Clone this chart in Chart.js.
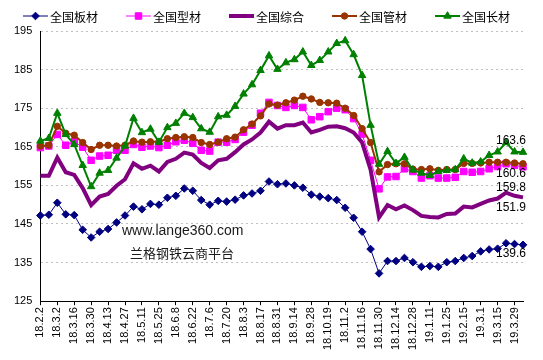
<!DOCTYPE html>
<html>
<head>
<meta charset="utf-8">
<script src="https://cdn.jsdelivr.net/npm/chart.js@4.4.1/dist/chart.umd.min.js"></script>
<style>
  html, body { margin: 0; padding: 0; background: #fff; }
  .wrap { width: 543px; height: 360px; position: relative; }
</style>
</head>
<body>
<div class="wrap"><canvas id="priceChart"></canvas></div>
<script>
// weekly dates, a label is shown on every other one
const dates = [
  "18.2.2", "18.2.9", "18.3.2", "18.3.9", "18.3.16", "18.3.23", "18.3.30", "18.4.6",
  "18.4.13", "18.4.20", "18.4.27", "18.5.4", "18.5.11", "18.5.18", "18.5.25", "18.6.1",
  "18.6.8", "18.6.15", "18.6.22", "18.6.29", "18.7.6", "18.7.13", "18.7.20", "18.7.27",
  "18.8.3", "18.8.10", "18.8.17", "18.8.24", "18.8.31", "18.9.7", "18.9.14", "18.9.21",
  "18.9.28", "18.10.12", "18.10.19", "18.10.26", "18.11.2", "18.11.9", "18.11.16", "18.11.23",
  "18.11.30", "18.12.7", "18.12.14", "18.12.21", "18.12.28", "19.1.4", "19.1.11", "19.1.18",
  "19.1.25", "19.2.1", "19.2.15", "19.2.22", "19.3.1", "19.3.8", "19.3.15", "19.3.22",
  "19.3.29", "19.4.4"
];

const plate = [
  147.2, 147.4, 150.5, 147.5, 147.3, 143.5, 141.5, 143.0, 143.7, 145.4,
  147.2, 149.5, 148.8, 150.2, 150.0, 151.8, 152.3, 154.2, 153.6, 151.2,
  150.0, 151.0, 150.8, 151.3, 152.4, 152.9, 153.6, 156.0, 155.3, 155.5,
  155.0, 154.4, 152.6, 152.1, 151.7, 151.2, 149.2, 146.6, 143.0, 138.5,
  132.2, 135.4, 135.4, 136.2, 135.1, 133.9, 134.1, 133.9, 135.1, 135.4,
  136.2, 136.7, 137.9, 138.4, 138.6, 140.0, 139.8, 139.6
];
const section = [
  164.8, 165.2, 168.2, 165.4, 166.3, 164.9, 161.5, 162.6, 162.8, 164.1,
  164.1, 165.6, 164.9, 165.2, 164.8, 165.4, 166.3, 166.7, 165.9, 164.1,
  163.9, 166.2, 166.2, 166.9, 168.8, 170.6, 173.7, 176.5, 175.7, 175.2,
  175.7, 175.2, 172.0, 172.8, 174.1, 175.0, 174.6, 172.3, 168.3, 161.5,
  154.1, 157.2, 157.3, 159.3, 158.6, 156.9, 157.5, 156.9, 156.9, 157.1,
  158.6, 158.4, 158.6, 159.3, 159.9, 160.6, 160.2, 159.8
];
const overall = [
  157.5, 157.5, 162.2, 158.4, 157.7, 154.3, 149.9, 152.1, 152.8, 154.9,
  156.6, 160.7, 159.3, 160.1, 158.6, 161.1, 161.9, 163.5, 163.0, 160.8,
  159.5, 161.5, 161.9, 163.6, 165.6, 166.9, 168.7, 171.5, 169.7, 170.6,
  170.6, 171.3, 168.7, 169.4, 170.2, 170.3, 169.8, 168.7, 166.1, 159.1,
  146.7, 149.9, 148.8, 149.8, 148.6, 147.1, 146.8, 146.7, 147.6, 147.7,
  149.5, 149.3, 150.2, 151.1, 151.6, 153.1, 152.3, 151.9
];
const pipe = [
  165.2, 165.4, 170.3, 168.5, 168.0, 166.1, 164.3, 165.4, 165.4, 165.2,
  165.4, 166.5, 166.2, 166.3, 166.3, 167.1, 167.4, 167.6, 167.4, 166.1,
  165.6, 166.2, 167.1, 167.5, 169.4, 170.9, 173.0, 176.1, 175.8, 176.4,
  177.1, 178.1, 177.4, 176.5, 176.4, 176.3, 175.0, 173.1, 169.7, 166.1,
  158.5, 160.4, 160.6, 160.6, 159.2, 159.1, 159.3, 158.9, 159.1, 159.1,
  160.7, 160.7, 160.8, 161.0, 161.0, 161.0, 160.8, 160.6
];
const longSteel = [
  166.5, 167.2, 173.7, 168.2, 165.6, 160.2, 154.7, 158.2, 158.9, 162.1,
  165.2, 172.4, 168.7, 169.6, 166.2, 170.0, 171.1, 173.7, 172.6, 169.7,
  168.8, 172.8, 173.2, 175.5, 178.7, 181.1, 184.8, 188.6, 185.1, 186.8,
  187.6, 189.6, 186.1, 187.4, 189.6, 191.8, 192.5, 188.9, 183.5, 170.6,
  160.5, 163.8, 160.7, 162.3, 159.0, 158.2, 157.6, 158.6, 158.9, 159.1,
  161.9, 160.8, 161.1, 162.8, 163.7, 166.1, 163.7, 163.6
];

const seriesNames = ["全国板材", "全国型材", "全国综合", "全国管材", "全国长材"];

const FONT = "'Liberation Sans', Arial, sans-serif";
const CJK = "'Noto Sans CJK SC', sans-serif";

// vertical offset of the end value label, per dataset index
const endLabelOffset = { 0: 9, 1: 21, 2: 10, 3: 10, 4: -12 };

const legendPlugin = {
  id: "lineLegend",
  afterDraw(chart) {
    const ctx = chart.ctx;
    const y = 16;
    let x = 23;
    ctx.save();
    ctx.font = "12px " + CJK;
    ctx.textBaseline = "middle";
    ctx.fillStyle = "#000";
    chart.data.datasets.forEach((ds) => {
      ctx.strokeStyle = ds.borderColor;
      ctx.lineWidth = ds.borderWidth;
      ctx.beginPath();
      ctx.moveTo(x, y);
      ctx.lineTo(x + 25, y);
      ctx.stroke();
      if (ds.pointRadius > 0) {
        ctx.fillStyle = ds.pointBackgroundColor;
        ctx.strokeStyle = ds.borderColor;
        ctx.lineWidth = 1;
        Chart.helpers.drawPoint(ctx, { pointStyle: ds.pointStyle, radius: ds.pointRadius, borderWidth: 1, rotation: 0 }, x + 12.5, y);
      }
      ctx.fillStyle = "#000";
      ctx.fillText(ds.label, x + 27, y + 1);
      x += 27 + ctx.measureText(ds.label).width + 28;
    });
    ctx.restore();
  }
};

const endLabelPlugin = {
  id: "endLabels",
  afterDatasetsDraw(chart) {
    const ctx = chart.ctx;
    ctx.save();
    ctx.font = "12px " + FONT;
    ctx.fillStyle = "#000";
    ctx.textAlign = "right";
    ctx.textBaseline = "middle";
    chart.data.datasets.forEach((ds, i) => {
      const meta = chart.getDatasetMeta(i);
      const last = meta.data[meta.data.length - 1];
      const val = ds.data[ds.data.length - 1];
      ctx.fillText(val.toFixed(1), last.x + 3, last.y + endLabelOffset[i]);
    });
    ctx.restore();
  }
};

const watermarkPlugin = {
  id: "watermark",
  afterDatasetsDraw(chart) {
    const ctx = chart.ctx;
    ctx.save();
    ctx.fillStyle = "#1a1a1a";
    ctx.textBaseline = "middle";
    ctx.font = "14px " + FONT;
    ctx.fillText("www.lange360.com", 122, 231);
    ctx.font = "13px " + CJK;
    ctx.fillText("兰格钢铁云商平台", 130, 253);
    ctx.restore();
  }
};

const ctx = document.getElementById("priceChart").getContext("2d");

new Chart(ctx, {
  type: "line",
  data: {
    labels: dates,
    datasets: [
      {
        label: seriesNames[0], data: plate, order: 4,
        borderColor: "#000080", backgroundColor: "#000080", pointBackgroundColor: "#000080",
        borderWidth: 1, pointStyle: "rectRot", pointRadius: 3.8, pointBorderWidth: 1
      },
      {
        label: seriesNames[1], data: section, order: 3,
        borderColor: "#ff00ff", backgroundColor: "#ff00ff", pointBackgroundColor: "#ff00ff",
        borderWidth: 1, pointStyle: "rect", pointRadius: 4.6, pointBorderWidth: 1
      },
      {
        label: seriesNames[2], data: overall, order: 2,
        borderColor: "#800080", backgroundColor: "#800080", pointBackgroundColor: "#800080",
        borderWidth: 4, pointRadius: 0
      },
      {
        label: seriesNames[3], data: pipe, order: 1,
        borderColor: "#993300", backgroundColor: "#993300", pointBackgroundColor: "#993300",
        borderWidth: 2, pointStyle: "circle", pointRadius: 3.2, pointBorderWidth: 1
      },
      {
        label: seriesNames[4], data: longSteel, order: 0,
        borderColor: "#008000", backgroundColor: "#008000", pointBackgroundColor: "#008000",
        borderWidth: 2, pointStyle: "triangle", pointRadius: 4.3, pointBorderWidth: 1
      }
    ]
  },
  options: {
    responsive: true,
    maintainAspectRatio: false,
    animation: false,
    layout: { padding: { top: 31, left: 6, right: 20, bottom: 8 } },
    elements: { line: { tension: 0 } },
    plugins: {
      legend: { display: false },
      tooltip: { enabled: false }
    },
    scales: {
      x: {
        grid: {
          display: true,
          drawOnChartArea: false,
          drawTicks: true,
          tickLength: 4,
          tickColor: "#000"
        },
        border: { display: true, color: "#000", width: 1 },
        ticks: {
          autoSkip: false,
          maxRotation: 90,
          minRotation: 90,
          padding: 2,
          color: "#000",
          font: { family: FONT, size: 11 },
          callback: function (value, index) {
            return index % 2 === 0 ? this.getLabelForValue(value) : null;
          }
        }
      },
      y: {
        min: 125,
        max: 195,
        grid: {
          color: "#c0c0c0",
          drawTicks: false
        },
        border: { display: true, color: "#000", width: 1, dash: [2, 3] },
        ticks: {
          stepSize: 10,
          padding: 8,
          color: "#000",
          font: { family: FONT, size: 11 }
        }
      }
    }
  },
  plugins: [legendPlugin, endLabelPlugin, watermarkPlugin]
});
</script>
</body>
</html>
